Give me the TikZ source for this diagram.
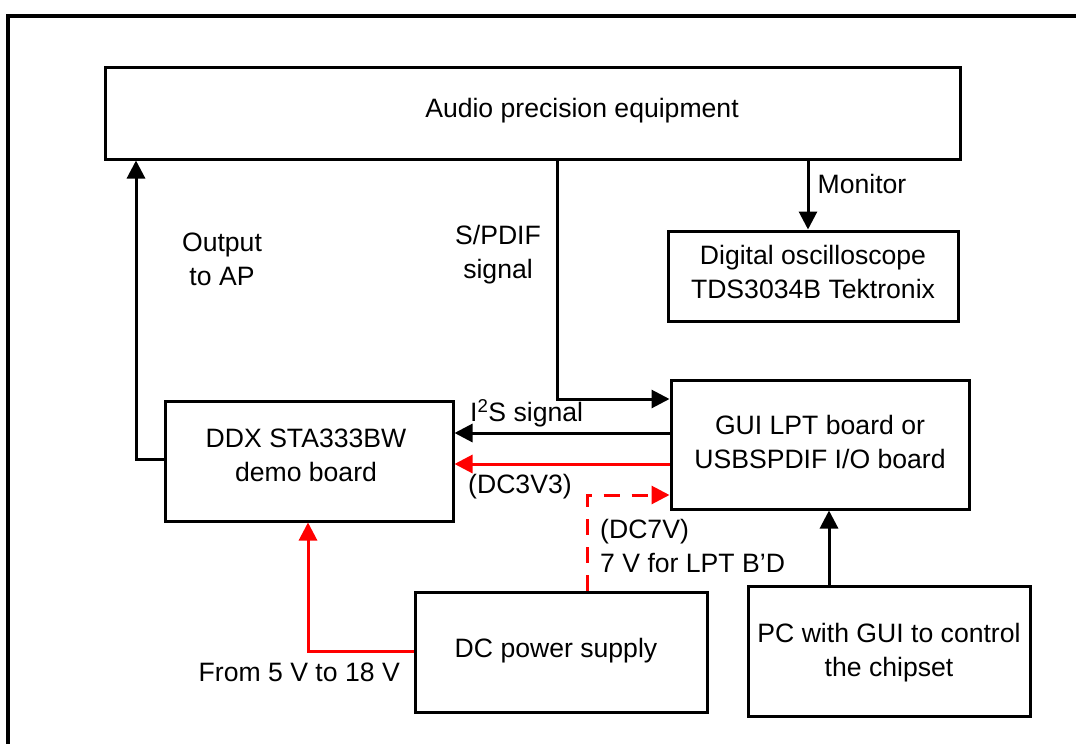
\documentclass[tikz,border=0pt]{standalone}
\usepackage{fontspec}
\setmainfont{Liberation Sans}
\usetikzlibrary{arrows.meta}
\begin{document}
\begin{tikzpicture}[x=1pt,y=-1pt,
  box/.style={draw,line width=3pt,inner sep=0pt},
  lbl/.style={inner sep=0pt,align=center,font=\fontsize{26.6}{34}\selectfont},
  conn/.style={line width=3pt,-{Triangle[length=18pt,width=18pt]}},
  pwr/.style={conn,red},
]
\useasboundingbox (0,0) rectangle (1076,744);
\draw[line width=4pt] (8,760) -- (8,16) -- (1090,16);
% boxes
\node[box,minimum width=855pt,minimum height=92pt] (ap) at (532.5,113) {};
\node[lbl] at (582,111) {Audio precision equipment};
\node[box,minimum width=290pt,minimum height=90pt] (osc) at (813,276) {};
\node[lbl] at (813,272) {Digital oscilloscope\\TDS3034B Tektronix};
\node[box,minimum width=298pt,minimum height=129pt] (gui) at (820,444.5) {};
\node[lbl] at (820,442) {GUI LPT board or\\USBSPDIF I/O board};
\node[box,minimum width=288pt,minimum height=120pt] (ddx) at (309,461) {};
\node[lbl] at (306,455) {DDX STA333BW\\demo board};
\node[box,minimum width=292pt,minimum height=120pt] (dc) at (561,652) {};
\node[lbl] at (556,651) {DC power supply};
\node[box,minimum width=282pt,minimum height=130pt] (pc) at (889,651) {};
\node[lbl] at (889,653) {PC with GUI to control\\the chipset};
% coordinates
\coordinate (o1) at (136,459);
\coordinate (s1) at (557,399);
\coordinate (d1) at (587,495);
\coordinate (f1) at (308,651);
% connectors
\draw[conn] (ddx.west |- o1) -- (o1) -- (o1 |- ap.south);
\draw[conn] (808,159) -- (osc.north -| 808,0);
\draw[conn] (s1 |- ap.south) -- (s1) -- (s1 -| gui.west);
\draw[conn] (gui.west |- 0,433) -- (ddx.east |- 0,433);
\draw[pwr] (gui.west |- 0,464) -- (ddx.east |- 0,464);
\draw[pwr,dashed,dash pattern=on 16pt off 12pt] (d1 |- dc.north) -- (d1) -- (d1 -| gui.west);
\draw[pwr] (dc.west |- f1) -- (f1) -- (f1 |- ddx.south);
\draw[conn] (pc.north -| 829,0) -- (gui.south -| 829,0);
% labels
\node[lbl] at (222,259) {Output\\to AP};
\node[lbl] at (862,184) {Monitor};
\node[lbl] at (498,255) {S/PDIF\\signal};
\node[lbl,anchor=west] at (470,413) {I\textsuperscript{2}S signal};
\node[lbl,anchor=west] at (468,487) {(DC3V3)};
\node[lbl,anchor=west,align=left] at (600,546) {(DC7V)\\7 V for LPT B'D};
\node[lbl,anchor=east] at (400,672) {From 5 V to 18 V};
\end{tikzpicture}
\end{document}
